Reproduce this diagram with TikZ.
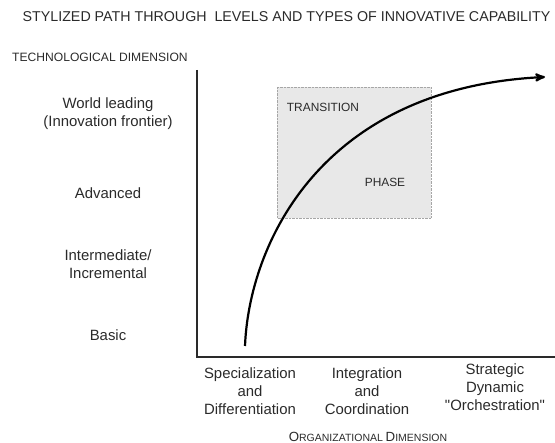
\documentclass[tikz,border=0pt]{standalone}
\usepackage{fontspec}
\setmainfont{Liberation Sans}[Ligatures=TeXOff]
\usetikzlibrary{arrows}

\definecolor{ink}{HTML}{2A2A2A}
\definecolor{phasegray}{HTML}{E8E8E8}
\newcommand{\lbl}{\fontsize{14.9}{18}\selectfont}
\newcommand{\smallcap}[2]{{\fontsize{13.3}{15}\selectfont #1}{\fontsize{10.5}{12}\selectfont #2}}

\begin{document}
\begin{tikzpicture} [x=1pt, y=-1pt, text=ink,
  level/.style={align=center, inner sep=0, font=\lbl},
  kind/.style={align=center, inner sep=0, font=\lbl}]
\useasboundingbox (0,0) rectangle (555,443);
% titles
\node (title) at (286.5,17) {\fontsize{14.25}{16}\selectfont STYLIZED PATH THROUGH\ \ LEVELS AND TYPES OF INNOVATIVE CAPABILITY};
\node[anchor=west, inner sep=0] (techdim) at (12,57) {\fontsize{12.1}{14}\selectfont TECHNOLOGICAL DIMENSION};
% transition phase
\draw[gray!70, densely dotted, fill=phasegray] (277,87) rectangle (431,218);
\node[inner sep=0] (trans) at (323,107) {\fontsize{11.9}{14}\selectfont TRANSITION};
\node[inner sep=0] (phase) at (385,182) {\fontsize{11.9}{14}\selectfont PHASE};
% axes
\coordinate (ytop) at (197,70);
\coordinate (xend) at (555,357);
\draw[ink, line width=2pt] (ytop) |- (xend);
% levels
\node[level] (world) at (108,114) {World leading\\(Innovation frontier)};
\node[level] (adv) at (108,193) {Advanced};
\node[level] (inter) at (108,264) {Intermediate/\\Incremental};
\node[level] (basic) at (108,335) {Basic};
% types
\node[kind] (spec) at (250,391) {Specialization\\and\\Differentiation};
\node[kind] (integ) at (367,391) {Integration\\and\\Coordination};
\node[kind] (strat) at (495,387) {Strategic\\Dynamic\\"Orchestration"};
\node (orgdim) at (368,437) {\smallcap{O}{RGANIZATIONAL} \smallcap{D}{IMENSION}};
% path
\coordinate (start) at (245,346);
\coordinate (finish) at (545,77);
\draw[black, line width=2.2pt, ->, >=stealth'] (start) .. controls (249,245) and (320,88) .. (finish);
\end{tikzpicture}
\end{document}
